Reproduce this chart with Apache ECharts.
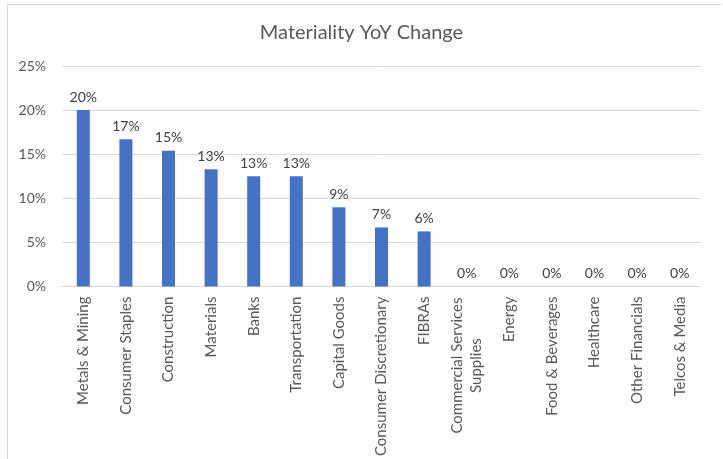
<!DOCTYPE html>
<html>
<head>
<meta charset="utf-8">
<script src="https://cdn.jsdelivr.net/npm/echarts@6/dist/echarts.min.js"></script>
<style>
  html, body { margin: 0; padding: 0; background: #ffffff; }
  #chart { width: 723px; height: 459px; }
</style>
</head>
<body>
<div id="chart"></div>
<script>
// Sectors and their year-over-year materiality change, in percent
const categories = [
  'Metals & Mining', 'Consumer Staples', 'Construction', 'Materials', 'Banks',
  'Transportation', 'Capital Goods', 'Consumer Discretionary', 'FIBRAs',
  'Commercial Services\nSupplies', 'Energy', 'Food & Beverages', 'Healthcare',
  'Other Financials', 'Telcos & Media'
];
const yoyChange = [20, 16.7, 15.4, 13.3, 12.5, 12.5, 9.0, 6.7, 6.25, 0, 0, 0, 0, 0, 0];
const yTicks = { min: 0, max: 25, step: 5 };

const FONT = 'Lato, "Open Sans", sans-serif';
const chart = echarts.init(document.getElementById('chart'), null, { renderer: 'canvas' });

chart.setOption({
  backgroundColor: '#ffffff',
  animation: false,
  title: {
    text: 'Materiality YoY Change',
    left: 'center',
    top: 18,
    textStyle: { fontFamily: FONT, fontSize: 20, fontWeight: 'normal', color: '#595959' }
  },
  grid: { left: 62, right: 22, top: 66, bottom: 172, containLabel: false },
  xAxis: {
    type: 'category',
    data: categories,
    axisTick: { show: false },
    axisLine: { lineStyle: { color: '#d9d9d9', width: 1 } },
    axisLabel: {
      interval: 0,
      rotate: 90,
      margin: 10,
      color: '#595959',
      fontFamily: FONT,
      fontSize: 15,
      formatter: function (v) {
        if (v.indexOf('\n') >= 0) {
          return v.split('\n').map(function (s) { return '{c|' + s + '}'; }).join('\n');
        }
        return v;
      },
      rich: {
        c: { width: 138, align: 'center', fontFamily: FONT, fontSize: 15, color: '#595959', lineHeight: 19 }
      }
    }
  },
  yAxis: {
    type: 'value',
    min: yTicks.min,
    max: yTicks.max,
    interval: yTicks.step,
    axisLine: { show: false },
    axisTick: { show: false },
    splitLine: { lineStyle: { color: '#d9d9d9', width: 1 } },
    axisLabel: {
      margin: 16,
      color: '#595959',
      fontFamily: FONT,
      fontSize: 14,
      formatter: '{value}%'
    }
  },
  series: [{
    type: 'bar',
    data: yoyChange,
    barWidth: 13,
    itemStyle: { color: '#4472C4' },
    label: {
      show: true,
      position: 'top',
      distance: 6,
      color: '#404040',
      fontFamily: FONT,
      fontSize: 14,
      formatter: function (p) { return Math.round(p.value) + '%'; }
    }
  }],
  graphic: [
    { type: 'line', shape: { x1: 7, y1: 4.5, x2: 721, y2: 4.5 }, style: { stroke: '#d9d9d9', lineWidth: 1 }, silent: true },
    { type: 'line', shape: { x1: 7.5, y1: 4, x2: 7.5, y2: 459 }, style: { stroke: '#d9d9d9', lineWidth: 1 }, silent: true }
  ]
});
</script>
</body>
</html>
